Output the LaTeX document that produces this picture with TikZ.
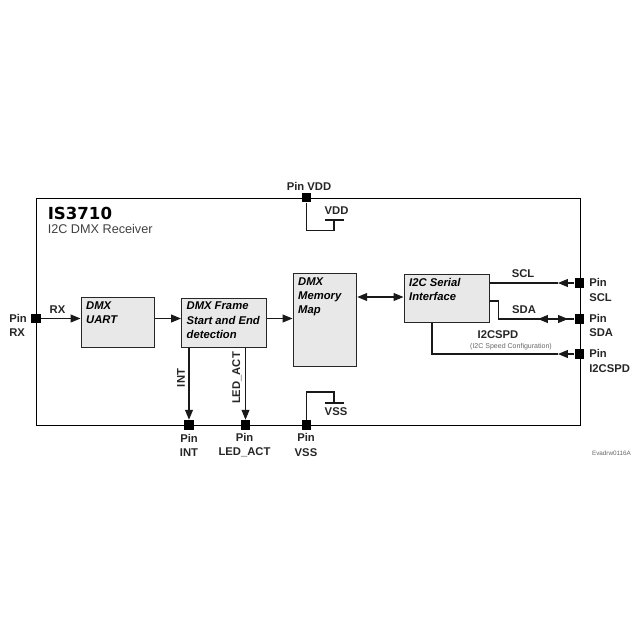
\documentclass[tikz,border=0pt]{standalone}
\usepackage{fontspec}
\setmainfont{Liberation Sans}
\newfontfamily\headfont{DejaVu Sans}
\usetikzlibrary{arrows.meta}
\newdimen\unitpx
\unitpx=0.025cm
\newcommand{\blocktext}[3]{\parbox[c][#2\unitpx][t]{#1\unitpx}{\vspace*{4\unitpx}\hspace*{5\unitpx}\parbox[t]{\dimexpr#1\unitpx-5\unitpx\relax}{\raggedright #3}}}
\tikzset{
  blockbox/.style={draw=black!85, fill=black!9, line width=0.9pt, inner sep=0pt, anchor=north west,
    font=\fontsize{8}{10.1}\selectfont\bfseries\itshape},
  pinbox/.style={draw=none, fill=black, minimum size=7.1pt, inner sep=0pt},
  pinlabel/.style={font=\fontsize{8}{10}\selectfont\bfseries, text=black!85, align=#1, inner sep=0pt},
  pinlabel/.default=center,
  wirelabel/.style={font=\fontsize{8}{10}\selectfont\bfseries, text=black!85, inner sep=0pt},
  flowline/.style={line width=0.75pt, black!90, -{Triangle[length=7pt,width=5.6pt]}},
  plainline/.style={line width=0.75pt, black!90},
}

\begin{document}
\begin{tikzpicture}[x=0.025cm, y=-0.025cm]
\useasboundingbox (0,0) rectangle (640,640);

% chip outline
\node[draw=black, line width=0.9pt, minimum width=543.5\unitpx, minimum height=227.5\unitpx, inner sep=0pt, anchor=north west] (chip) at (36,197.5) {};
\node[anchor=west, inner sep=0pt, font=\fontsize{11.8}{14}\selectfont\headfont\bfseries] (title) at (47.5,213.5) {IS3710};
\node[anchor=west, inner sep=0pt, font=\fontsize{9}{11}\selectfont, text=black!75] (subtitle) at (47.5,229) {I2C DMX Receiver};

% blocks
\node[blockbox] (uart) at (80.5,297) {\blocktext{73}{49.5}{DMX\\UART}};
\node[blockbox] (frame) at (181,297.5) {\blocktext{85}{49}{DMX Frame\\Start and End\\detection}};
\node[blockbox] (memory) at (292.5,273) {\blocktext{63.5}{92.5}{DMX\\Memory\\Map}};
\node[blockbox] (serial) at (403.5,273.5) {\blocktext{85}{48}{I2C Serial\\Interface}};

% pins
\node[pinbox] (pinrx) at (36,318.5) {};
\node[pinbox] (pinvdd) at (306.5,197.5) {};
\node[pinbox] (pinint) at (189,425) {};
\node[pinbox] (pinled) at (245.5,425) {};
\node[pinbox] (pinvss) at (306.5,425) {};
\node[pinbox] (pinscl) at (579.5,283) {};
\node[pinbox] (pinsda) at (579.5,319) {};
\node[pinbox] (pinspd) at (579.5,354) {};

\node[pinlabel=left, anchor=west] (labelrx) at (9,325) {Pin\\RX};
\node[wirelabel] (labelvdd) at (309,186) {Pin VDD};
\node[pinlabel] (labelint) at (189,445) {Pin\\INT};
\node[pinlabel] (labelled) at (244.5,445) {Pin\\LED\_ACT};
\node[pinlabel] (labelvss) at (306,445) {Pin\\VSS};
\node[pinlabel=left, anchor=west] (labelscl) at (589,290) {Pin\\SCL};
\node[pinlabel=left, anchor=west] (labelsda) at (589,325.5) {Pin\\SDA};
\node[pinlabel=left, anchor=west] (labelspd) at (589,361) {Pin\\I2CSPD};

% signals
\draw[flowline] (pinrx) -- (uart.west |- pinrx);
\draw[flowline] (uart.east |- pinrx) -- (frame.west |- pinrx);
\draw[flowline] (frame.east |- pinrx) -- (memory.west |- pinrx);
\draw[flowline, {Triangle[length=7pt,width=5.6pt]}-{Triangle[length=7pt,width=5.6pt]}] (memory.east |- 0,297) -- (serial.west |- 0,297);
\draw[flowline] (pinint |- frame.south) -- (pinint);
\draw[flowline] (pinled |- frame.south) -- (pinled);

\coordinate (sclarrow) at (558,283);
\coordinate (sdacorner) at (498.5,319);
\coordinate (sdaleft) at (538,319);
\coordinate (sdaright) at (568,319);
\coordinate (spdarrow) at (558,354);
\coordinate (spdcorner) at (432,354);

\draw[flowline] (pinscl) -- (sclarrow);
\draw[plainline] (sclarrow) -- (serial.east |- sclarrow);
\draw[plainline] (serial.east |- 0,301) -| (sdacorner) -- (sdaleft);
\draw[flowline] (pinsda) -- (sdaleft);
\draw[flowline] (sdaleft) -- (sdaright);
\draw[plainline] (sdaright) -- (pinsda);
\draw[flowline] (pinspd) -- (spdarrow);
\draw[plainline] (spdarrow) -- (spdcorner) -- (spdcorner |- serial.south);

\node[wirelabel] (labelrxin) at (57.5,310) {RX};
\node[wirelabel, rotate=90] (labelintout) at (181,378) {INT};
\node[wirelabel, rotate=90] (labelledout) at (237,378) {LED\_ACT};
\node[wirelabel] (labelsclin) at (523,274) {SCL};
\node[wirelabel] (labelsdain) at (524,310) {SDA};
\node[wirelabel] (labelspdin) at (498,335) {I2CSPD};
\node[inner sep=0pt, font=\fontsize{5}{6}\selectfont, text=black!60] (labelspdnote) at (511,347) {(I2C Speed Configuration)};

% supply
\coordinate (vddbend) at (334,230.5);
\coordinate (vddtop) at (334,220);
\coordinate (vddleft) at (325,220);
\coordinate (vddright) at (343.5,220);
\coordinate (vssbend) at (334,392);
\coordinate (vssbottom) at (334,403);
\coordinate (vssleft) at (325,403);
\coordinate (vssright) at (343.5,403);
\draw[plainline] (pinvdd) |- (vddbend) -- (vddtop);
\draw[plainline] (vddleft) -- (vddright);
\draw[plainline] (pinvss) |- (vssbend) -- (vssbottom);
\draw[plainline] (vssleft) -- (vssright);
\node[wirelabel] (labelvddin) at (336.5,211) {VDD};
\node[wirelabel] (labelvssin) at (336,412) {VSS};

\node[inner sep=0pt, font=\fontsize{4.5}{5}\selectfont, text=black!60] (drawingref) at (611.5,453) {Evadrw0116A};
\end{tikzpicture}
\end{document}
